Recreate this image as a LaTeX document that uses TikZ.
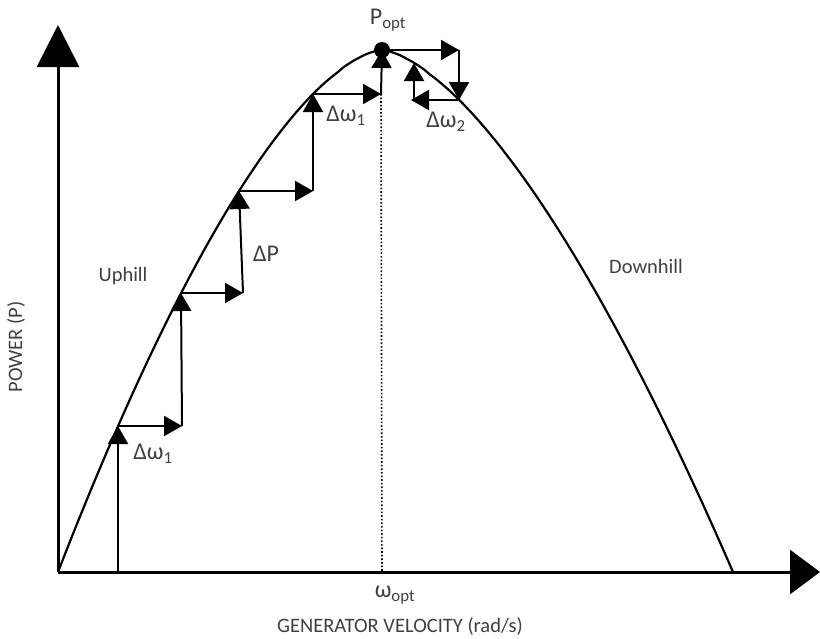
\documentclass[tikz,border=0pt]{standalone}
\usepackage{fontspec}
\setmainfont{Carlito}
\usepackage{tikz}
\usetikzlibrary{arrows.meta,positioning}
\definecolor{testo}{RGB}{64,64,64}

\begin{document}
\begin{tikzpicture}[x=1pt,y=-1pt,
    freccia/.style={line width=2pt, -{Triangle[length=18pt,width=20pt]}},
    etichetta/.style={text=testo, inner sep=0pt, font=\fontsize{20.5}{24}\selectfont},
    greca/.style={etichetta, font=\fontsize{24}{28}\selectfont}]
      \useasboundingbox (0,0) rectangle (820,638);

      % Assi
      \coordinate (O) at (58,572);
      \coordinate (ymax) at (58,25);
      \coordinate (xmax) at (820,572);
      \draw[line width=3pt, -{Triangle[length=42pt,width=42pt]}] (O) -- (ymax);
      \draw[line width=3pt, -{Triangle[length=30pt,width=44pt]}] (O) -- (xmax);

      % Punti sulla curva
      \coordinate (a1) at (118,426);
      \coordinate (b1) at (181,293);
      \coordinate (c1) at (239,191);
      \coordinate (d1) at (313,94);
      \coordinate (popt) at (382,50);
      \coordinate (e2) at (459,100);
      \coordinate (end) at (733,572);

      % Curva di potenza
      \draw[line width=2.2pt] plot[domain=0:0.999, samples=60] ({58+324*\x}, {572-522*(1-(1-\x)^1.6)})
        -- plot[domain=0.999:0, samples=60] ({733-351*\x}, {572-522*(1-(1-\x)^1.55)});

      % Salita
      \coordinate (a0) at (118,572);
      \coordinate (a2) at (182,426);
      \coordinate (b2) at (243,293);
      \coordinate (c2) at (313,191);
      \coordinate (d2) at (381,94);
      \coordinate (wopt) at (382,572);
      \draw[line width=2pt] (a0) -- (a1);
      \draw[freccia] (118,560) -- (a1);
      \draw[freccia] (a1) -- (a2);
      \draw[freccia] (a2) -- (b1);
      \draw[freccia] (b1) -- (b2);
      \draw[freccia] (b2) -- (c1);
      \draw[freccia] (c1) -- (c2);
      \draw[freccia] (c2) -- (d1);
      \draw[freccia] (d1) -- (d2);
      \draw[freccia] (d2) -- (popt);
      \draw[dotted, line width=1.6pt] (d2) -- (wopt);

      % Discesa
      \coordinate (e1) at (459,50);
      \coordinate (e3) at (411,100);
      \coordinate (e4) at (414,63);
      \draw[freccia] (popt) -- (e1);
      \draw[freccia] (e1) -- (e2);
      \draw[freccia] (e2) -- (e3);
      \draw[freccia] (414,100) -- (e4);
      \fill (popt) circle (8pt);

      % Etichette
      \node[greca] (lpopt) at (388,20) {P\textsubscript{opt}};
      \node[greca] (ldw1a) at (346,116) {Δω\textsubscript{1}};
      \node[greca] (ldw2) at (446,122) {Δω\textsubscript{2}};
      \node[greca] (ldp) at (266,254) {ΔP};
      \node[greca] (ldw1b) at (153,454) {Δω\textsubscript{1}};
      \node[etichetta] (lup) at (123,276) {Uphill};
      \node[etichetta] (ldown) at (646,266) {Downhill};
      \node[greca] (lwopt) at (395,595) {ω\textsubscript{opt}};
      \node[etichetta] (lxlab) at (400,626) {GENERATOR VELOCITY (rad/s)};
      \node[etichetta, rotate=90] (lylab) at (16,347) {POWER (P)};
    \end{tikzpicture}
\end{document}
